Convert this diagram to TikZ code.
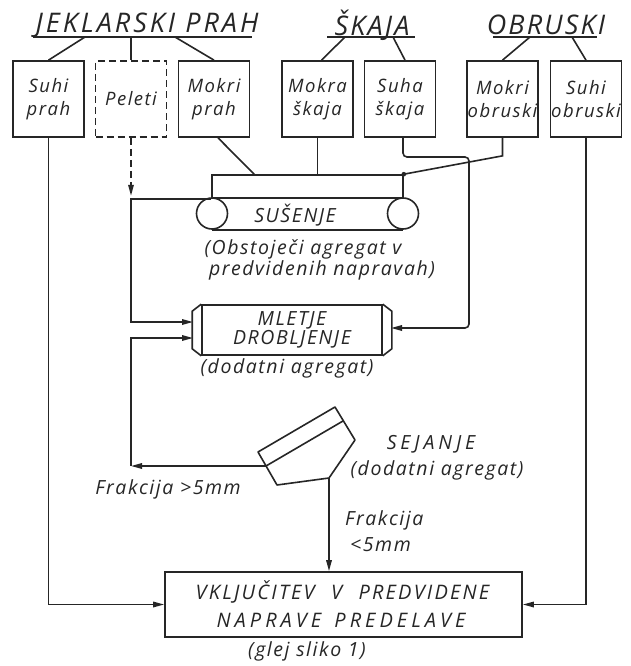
\documentclass[tikz,border=0pt]{standalone}
\usepackage{fontspec}
\setmainfont{Open Sans}
\newfontfamily\tech{Open Sans}[LetterSpace=8]
\newfontfamily\techA{Open Sans}[LetterSpace=11]
\newfontfamily\techB{Open Sans}[LetterSpace=20]
\usetikzlibrary{arrows.meta,calc}
\begin{document}
\begin{tikzpicture}[x=1pt,y=-1pt,
  lw/.style={line width=1.6pt, draw=black!85},
  arr/.style={-{Triangle[length=11pt,width=5.5pt]}},
  lbl/.style={font={\tech\itshape\fontsize{19.5}{22}\selectfont}, text=black!85, inner sep=0pt, align=center},
  ttl/.style={font={\tech\itshape\fontsize{27}{30}\selectfont}, text=black!85, inner sep=0pt},
  srcbox/.style={draw=black!85, line width=1.7pt, minimum width=71pt, minimum height=76pt, inner sep=0pt, align=center,
    font={\tech\itshape\fontsize{18.5}{23}\selectfont}, text=black!85},
]
\fill[white] (0,0) rectangle (630,666);
\useasboundingbox (0,0) rectangle (630,666);

% titles
\node[ttl, font={\techA\itshape\fontsize{27}{30}\selectfont}] (t1) at (147,25) {JEKLARSKI PRAH};
\node[ttl] (t2) at (372,25) {ŠKAJA};
\node[ttl] (t3) at (546,25) {OBRUSKI};
\coordinate (u1l) at (33,37); \coordinate (u1r) at (252,37);
\coordinate (u2l) at (327,37); \coordinate (u2r) at (415,37);
\coordinate (u3l) at (493,37); \coordinate (u3r) at (597,37);
\draw[lw] (u1l) -- (u1r);
\draw[lw] (u2l) -- (u2r);
\draw[lw] (u3l) -- (u3r);

% source boxes
\node[srcbox] (b1) at (48.5,99) {Suhi\\prah};
\node[srcbox, dash pattern=on 7pt off 4pt] (b2) at (131,99) {Peleti};
\node[srcbox] (b3) at (214,99) {Mokri\\prah};
\node[srcbox] (b4) at (317.5,99) {Mokra\\škaja};
\node[srcbox] (b5) at (400,99) {Suha\\škaja};
\node[srcbox] (b6) at (502.5,99) {Mokri\\obruski};
\node[srcbox] (b7) at (586,99) {Suhi\\obruski};

% branches
\coordinate (k1) at (85,37); \coordinate (k2) at (131,37); \coordinate (k3) at (175,37);
\coordinate (k4) at (345,37); \coordinate (k5) at (393,37);
\coordinate (k6) at (530,37); \coordinate (k7) at (572,37);
\draw[lw] (k1) -- (b1.north);
\draw[lw] (k2) -- (b2.north);
\draw[lw] (k3) -- (b3.north);
\draw[lw] (k4) -- ($(b4.north)+(4,0)$);
\draw[lw] (k5) -- ($(b5.north)+(5,0)$);
\draw[lw] (k6) -- (b6.north);
\draw[lw] (k7) -- (b7.north);

% drying conveyor
\node[draw=black!85, line width=1.6pt, minimum width=191pt, minimum height=23pt, inner sep=0pt] (belt) at (307.5,186.5) {};
\node[draw=black!85, line width=1.6pt, circle, minimum size=31pt, inner sep=0pt] (c1) at (212,213.5) {};
\node[draw=black!85, line width=1.6pt, circle, minimum size=31pt, inner sep=0pt] (c2) at (403,213.5) {};
\draw[lw] (c1.south) -- (c2.south);
\node[lbl] (sus) at (295,215) {SUŠENJE};
\node[lbl] (sus1) at (303,249) {(Obstoječi agregat v};
\node[lbl] (sus2) at (322,270) {predvidenih napravah)};

% mill
\node[draw=black!85, line width=1.6pt, minimum width=180pt, minimum height=50pt, inner sep=0pt,
  font={\tech\itshape\fontsize{19.5}{19}\selectfont}, text=black!85, align=center] (mill) at (292,330) {MLETJE\\DROBLJENJE};
\draw[lw] (mill.north west) -- ++(-9,7) -- ($(mill.south west)+(-9,-7)$) -- (mill.south west);
\draw[lw] (mill.north east) -- ++(9,7) -- ($(mill.south east)+(9,-7)$) -- (mill.south east);
\node[lbl] (mill1) at (287,368) {(dodatni agregat)};
\coordinate (mL1) at (193,322);
\coordinate (mL2) at (193,338);
\coordinate (mR) at (391,328);

% sieve
\coordinate (sA) at (258,452);
\coordinate (sB) at (335,407);
\coordinate (sC) at (355,440);
\coordinate (sD) at (329,478);
\coordinate (sE) at (277,485);
\coordinate (sA2) at (266,466);
\coordinate (sB2) at (343,421);
\draw[lw, line join=round] (sA) -- (sB) -- (sC) -- (sD) -- (sE) -- cycle;
\draw[lw] (sA2) -- (sB2);
\node[lbl, font={\techB\itshape\fontsize{19.5}{22}\selectfont}] (sej) at (431,444) {SEJANJE};
\node[lbl] (sej1) at (437,470) {(dodatni agregat)};
\node[lbl] (fr1) at (168,489) {Frakcija >5mm};
\node[lbl, anchor=west] (fr2) at (345,520) {Frakcija};
\node[lbl, anchor=west] (fr3) at (350,545) {<5mm};

% final box
\node[draw=black!85, line width=1.7pt, minimum width=357pt, minimum height=65pt, inner sep=0pt] (fin) at (343.5,604.5) {};
\node[font={\techA\itshape\fontsize{20}{22}\selectfont}, text=black!85, inner sep=0pt] (fin1) at (342.5,592)
  {VKLJUČITEV\hspace{9pt} V\hspace{9pt} PREDVIDENE};
\node[font={\techB\itshape\fontsize{20}{22}\selectfont}, text=black!85, inner sep=0pt] (fin2) at (341,620)
  {NAPRAVE\hspace{4pt} PREDELAVE};
\node[lbl] (glej) at (307,651) {(glej sliko 1)};

% connectors
\coordinate (jL) at (b2.south |- belt.south);
\coordinate (mp) at ($(belt.north west)+(43,0)$);
\coordinate (jS) at (469,157);
\coordinate (jC) at (131,466);
\draw[lw] ($(b3.south)+(4,0)$) -- (mp);
\draw[lw] (b4.south) -- (b4.south |- belt.north);
\draw[lw] (b6.south) -- ++(0,18) -- (belt.north east);
\fill[black!85] (belt.north east) circle (2.3pt);
\draw[lw, arr, rounded corners=4pt] ($(b5.south)+(3,0)$) |- (jS) |- (mR);
\draw[lw, arr] (belt.south west) -- (jL) |- (mL1);
\draw[lw, arr, dash pattern=on 7pt off 4pt] (b2.south) -- ($(jL)+(0,-3)$);
\draw[lw, arr] (sA2) -- (jC);
\draw[lw, arr] (jC) |- (mL2);
\draw[lw, arr] (sD) -- (sD |- fin.north);
\draw[lw, arr] (b1.south) |- (fin.west);
\draw[lw, arr] (b7.south) |- (fin.east);
\end{tikzpicture}
\end{document}
